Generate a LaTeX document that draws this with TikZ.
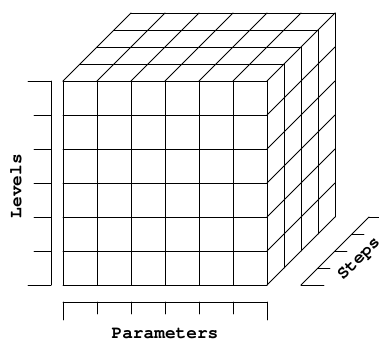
\documentclass[tikz,border=0pt]{standalone}
\usepackage[T1]{fontenc}
\usepackage{courier}
\usepackage{tikz}

\tikzset{gridline/.style={line width=0.8pt},
	axisline/.style={line width=0.8pt},
	axislabel/.style={font=\ttfamily\bfseries\fontsize{17.8}{20}\selectfont, inner sep=0pt}}

\begin{document}
\begin{tikzpicture}[line cap=round,line join=round,x=1pt,y=-1pt]
	\useasboundingbox (0,0) rectangle (379,338);
	\clip (0,0) rectangle (379,338);
	% front face
	\draw [gridline] (63,81)-- (267,81);
	\draw [gridline] (63,115)-- (267,115);
	\draw [gridline] (63,149)-- (267,149);
	\draw [gridline] (63,183)-- (267,183);
	\draw [gridline] (63,217)-- (267,217);
	\draw [gridline] (63,251)-- (267,251);
	\draw [gridline] (63,285)-- (267,285);
	\draw [gridline] (63,81)-- (63,285);
	\draw [gridline] (97,81)-- (97,285);
	\draw [gridline] (131,81)-- (131,285);
	\draw [gridline] (165,81)-- (165,285);
	\draw [gridline] (199,81)-- (199,285);
	\draw [gridline] (233,81)-- (233,285);
	\draw [gridline] (267,81)-- (267,285);
	% top face
	\draw [gridline] (80,64)-- (284,64);
	\draw [gridline] (97,47)-- (301,47);
	\draw [gridline] (114,30)-- (318,30);
	\draw [gridline] (131,13)-- (335,13);
	\draw [gridline] (63,81)-- (131,13);
	\draw [gridline] (97,81)-- (165,13);
	\draw [gridline] (131,81)-- (199,13);
	\draw [gridline] (165,81)-- (233,13);
	\draw [gridline] (199,81)-- (267,13);
	\draw [gridline] (233,81)-- (301,13);
	\draw [gridline] (267,81)-- (335,13);
	% right face
	\draw [gridline] (284,64)-- (284,268);
	\draw [gridline] (301,47)-- (301,251);
	\draw [gridline] (318,30)-- (318,234);
	\draw [gridline] (335,13)-- (335,217);
	\draw [gridline] (267,115)-- (335,47);
	\draw [gridline] (267,149)-- (335,81);
	\draw [gridline] (267,183)-- (335,115);
	\draw [gridline] (267,217)-- (335,149);
	\draw [gridline] (267,251)-- (335,183);
	\draw [gridline] (267,285)-- (335,217);
	% levels axis
	\draw [axisline] (51,81)-- (51,285);
	\draw [axisline] (28,81)-- (51,81);
	\draw [axisline] (34,115)-- (51,115);
	\draw [axisline] (34,149)-- (51,149);
	\draw [axisline] (34,183)-- (51,183);
	\draw [axisline] (34,217)-- (51,217);
	\draw [axisline] (34,251)-- (51,251);
	\draw [axisline] (28,285)-- (51,285);
	\node [axislabel, rotate=90] (levels) at (16,186) {Levels};
	% parameters axis
	\draw [axisline] (63,302)-- (267,302);
	\draw [axisline] (63,302)-- (63,320);
	\draw [axisline] (97,302)-- (97,314);
	\draw [axisline] (131,302)-- (131,314);
	\draw [axisline] (165,302)-- (165,314);
	\draw [axisline] (199,302)-- (199,314);
	\draw [axisline] (233,302)-- (233,314);
	\draw [axisline] (267,302)-- (267,320);
	\node [axislabel, anchor=base] (parameters) at (165,338) {Parameters};
	% steps axis
	\draw [axisline] (301,285)-- (369,217);
	\draw [axisline] (301,285)-- (324,285);
	\draw [axisline] (318,268)-- (330,268);
	\draw [axisline] (335,251)-- (347,251);
	\draw [axisline] (352,234)-- (364,234);
	\draw [axisline] (369,217)-- (392,217);
	\node [axislabel, rotate=45] (steps) at (359,259) {Steps};
\end{tikzpicture}
\end{document}
